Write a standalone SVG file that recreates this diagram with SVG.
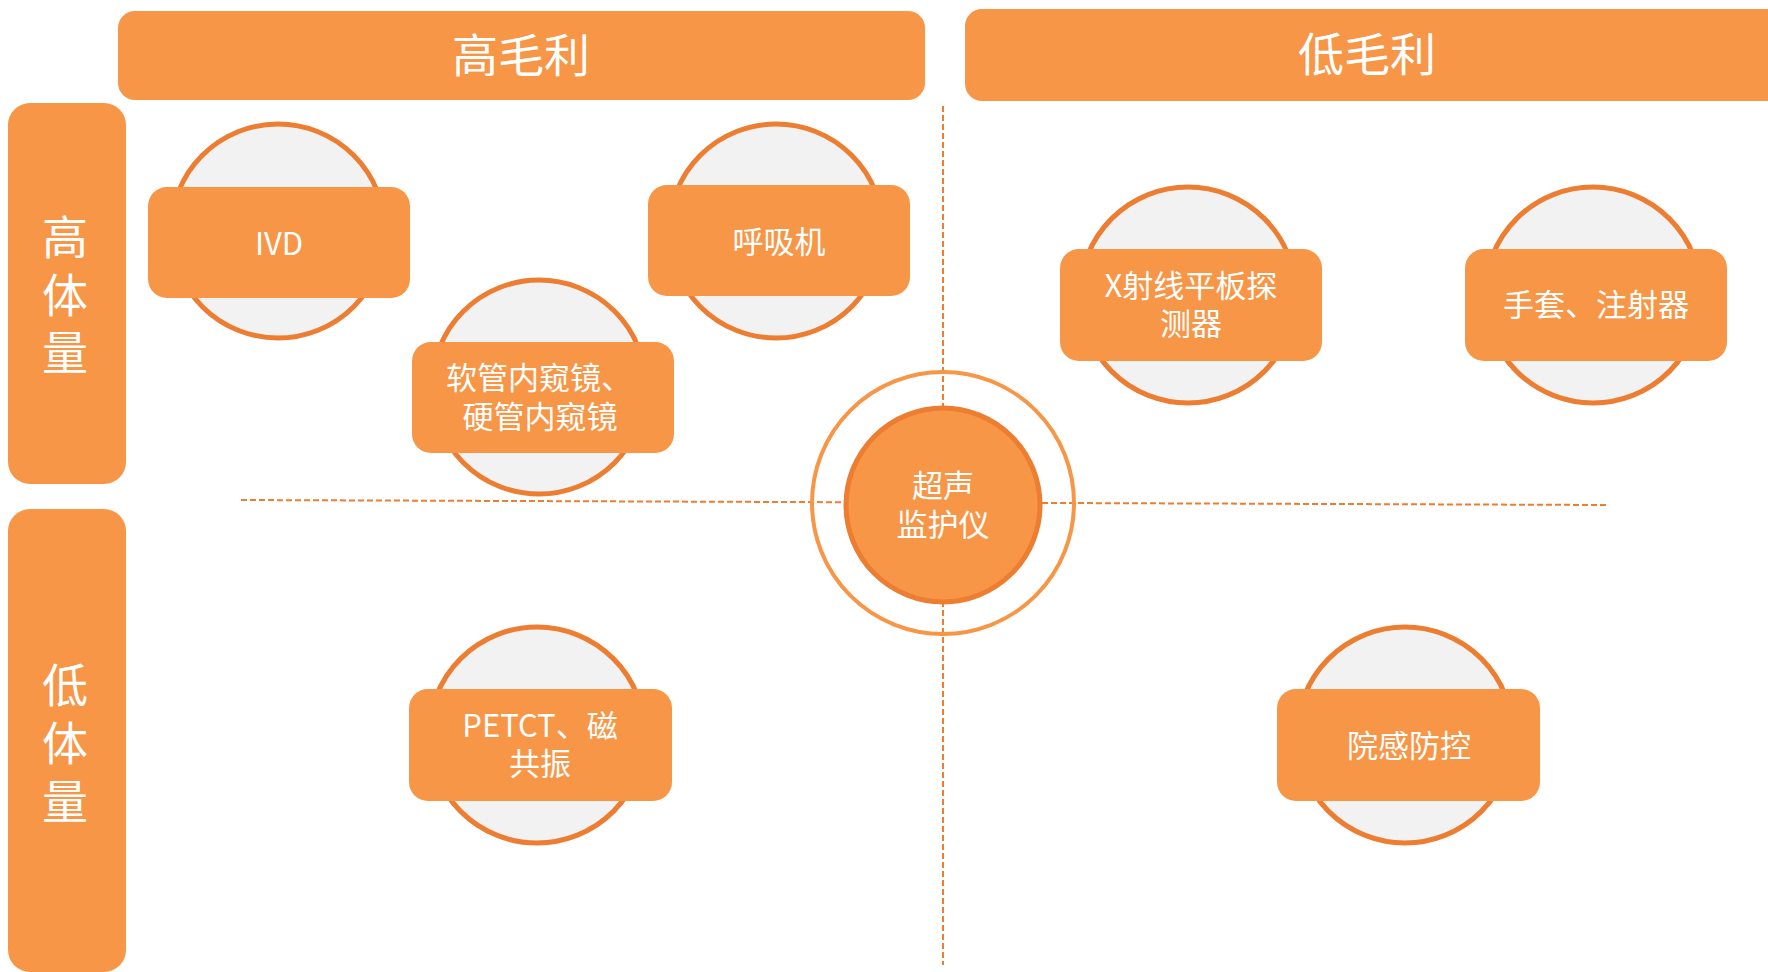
<svg xmlns="http://www.w3.org/2000/svg" width="1768" height="972" viewBox="0 0 1768 972">
<style>
.bar{fill:#F79646}
.hd{font-family:"Noto Sans CJK SC","Liberation Sans",sans-serif;font-size:46px;fill:#FFFFFF;text-anchor:middle}
.disc{fill:#F2F2F2;stroke:#ED7D31;stroke-width:5}
.box{fill:#F79646}
.t{font-family:"Noto Sans CJK SC","Liberation Sans",sans-serif;font-size:31px;fill:#FFFFFF;text-anchor:middle}
.dash{stroke:#ED7D31;stroke-width:2;stroke-dasharray:6 3;fill:none}
</style>
<rect width="1768" height="972" fill="#FFFFFF"/>
<g id="header-high-margin">
<rect class="bar" x="118" y="11" width="807" height="89" rx="17"/>
<text class="hd" x="521" y="72">高毛利</text>
</g>
<g id="header-low-margin">
<rect class="bar" x="965" y="9" width="820" height="92" rx="17"/>
<text class="hd" x="1367" y="71">低毛利</text>
</g>
<g id="side-high-volume">
<rect class="bar" x="8" y="103" width="118" height="381" rx="22"/>
<text class="hd" x="65" y="254">高</text>
<text class="hd" x="65" y="312">体</text>
<text class="hd" x="65" y="369">量</text>
</g>
<g id="side-low-volume">
<rect class="bar" x="8" y="509" width="118" height="463" rx="22"/>
<text class="hd" x="65" y="702">低</text>
<text class="hd" x="65" y="760">体</text>
<text class="hd" x="65" y="818">量</text>
</g>
<g id="connectors">
<line class="dash" x1="943" y1="106" x2="943" y2="965"/>
<line class="dash" x1="241" y1="500" x2="1607" y2="505"/>
</g>
<g id="node-ivd">
<circle class="disc" cx="278" cy="231" r="107"/>
<rect class="box" x="148" y="187" width="262" height="111" rx="19"/>
<text class="t" x="279" y="255">IVD</text>
</g>
<g id="node-ventilator">
<circle class="disc" cx="776" cy="231" r="107"/>
<rect class="box" x="648" y="185" width="262" height="111" rx="19"/>
<text class="t" x="779" y="253">呼吸机</text>
</g>
<g id="node-endoscope">
<circle class="disc" cx="539" cy="387" r="107"/>
<rect class="box" x="412" y="342" width="262" height="111" rx="19"/>
<text class="t" x="539" y="389">软管内窥镜、</text>
<text class="t" x="540" y="428">硬管内窥镜</text>
</g>
<g id="node-xray">
<circle class="disc" cx="1188" cy="295" r="108"/>
<rect class="box" x="1060" y="249" width="262" height="112" rx="19"/>
<text class="t" x="1191" y="297">X射线平板探</text>
<text class="t" x="1191" y="335">测器</text>
</g>
<g id="node-gloves">
<circle class="disc" cx="1593" cy="295" r="108"/>
<rect class="box" x="1465" y="249" width="262" height="112" rx="19"/>
<text class="t" x="1596" y="316">手套、注射器</text>
</g>
<g id="node-petct">
<circle class="disc" cx="537" cy="735" r="108"/>
<rect class="box" x="409" y="689" width="263" height="112" rx="19"/>
<text class="t" x="540" y="737">PETCT、磁</text>
<text class="t" x="540" y="775">共振</text>
</g>
<g id="node-infection">
<circle class="disc" cx="1405" cy="735" r="108"/>
<rect class="box" x="1277" y="689" width="263" height="112" rx="19"/>
<text class="t" x="1409" y="757">院感防控</text>
</g>
<g id="node-ultrasound">
<circle cx="943" cy="503" r="131" fill="none" stroke="#F79646" stroke-width="4"/>
<circle cx="943" cy="505" r="97" fill="#F79646" stroke="#ED7D31" stroke-width="5"/>
<text class="t" x="943" y="497">超声</text>
<text class="t" x="943" y="536">监护仪</text>
</g>
</svg>
